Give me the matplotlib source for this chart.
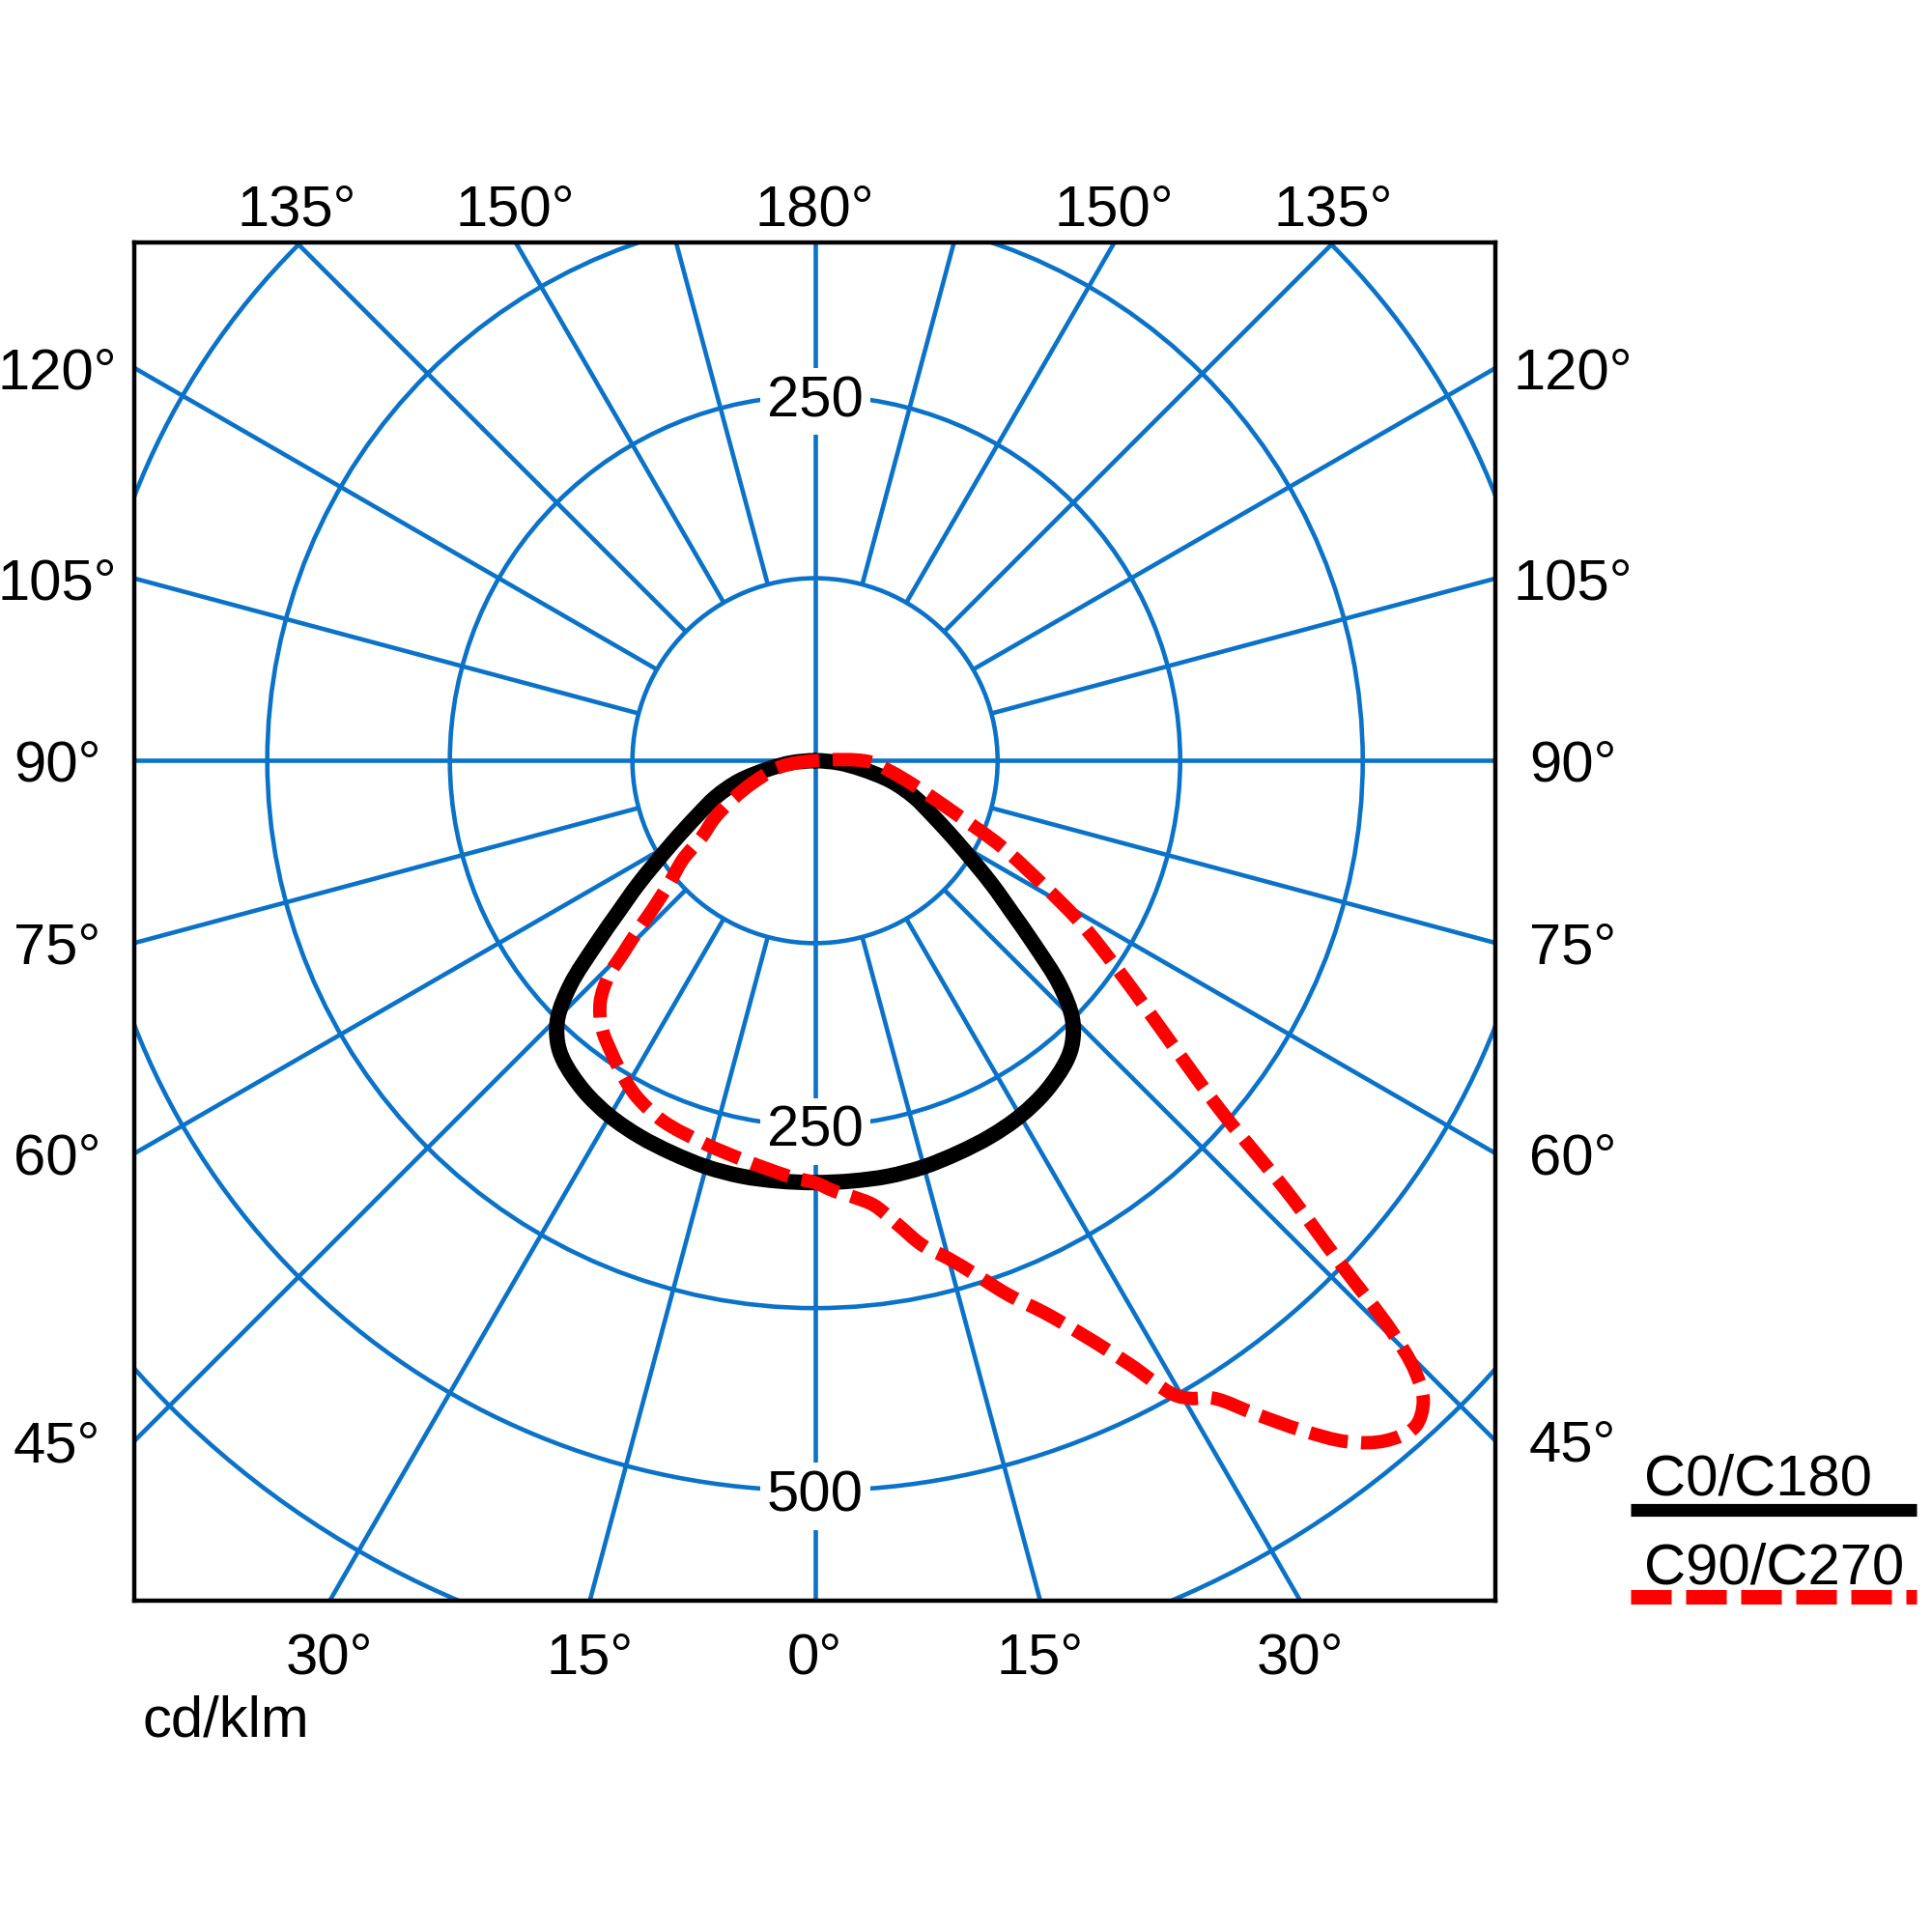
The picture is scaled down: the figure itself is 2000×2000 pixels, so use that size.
import numpy as np
import matplotlib
matplotlib.use("Agg")
import matplotlib.pyplot as plt
from matplotlib.patches import Circle, PathPatch
from matplotlib.path import Path
from matplotlib.lines import Line2D

plt.rcParams['font.family'] = ['Liberation Sans', 'DejaVu Sans']

# ---------------- data (cd/klm) ----------------
# C0/C180 (symmetric, both halves identical)
c0_gamma = [0, 5, 10, 15, 20, 25, 30, 35, 40, 42.5, 45, 47.5, 50, 52.5, 55, 60, 65, 70, 75, 80, 85, 90]
c0_int = [289, 289, 289, 288, 286, 284, 281, 276, 268, 261, 249, 227, 196, 169, 148, 113, 89, 72, 54, 32, 16, 0]

# C90 half (right side, asymmetric lobe)
c90_gamma = [0, 2.5, 5, 7.5, 10, 12.5, 15, 17.5, 20, 22.5, 25, 27.5, 29.5, 30.5, 32, 34, 36, 38, 40,
             42, 43.5, 44.5, 45.3, 46.2, 47.6, 49.2, 50.8, 52.9, 55.6, 58.5, 61.4, 65.2, 69.2, 76, 82, 89, 90]
c90_int = [289, 295, 300, 307, 322, 340, 353, 370, 390, 409, 434, 466, 499, 507, 515, 540, 567, 592, 608,
           614, 605, 586, 555, 500, 437, 367, 327, 288, 249, 214, 178, 141, 104, 70, 52, 37, 0]

# C270 half (left side)
c270_gamma = [0, 3, 10, 16, 22.8, 27.7, 30.9, 34.8, 38.6, 41.7, 43.8, 44.9, 46.2, 47.6, 50, 53.2, 55.9,
              60.3, 65, 70.5, 80, 90]
c270_int = [289, 286, 278, 273, 268, 261, 254, 244, 234, 221, 204, 186, 168, 150, 130, 113, 94,
            79, 62, 45, 24, 0]

ring_values = [125, 250, 375, 500, 625]
ring_label_text = ["250", "250", "500"]
ring_label_value = [250, 250, 500]
ring_label_gamma = [180, 0, 0]
left_ticks = [45, 60, 75, 90, 105, 120]
bottom_ticks = [0, 15, 30]
top_ticks = [135, 150, 180]
series_labels = ["C0/C180", "C90/C270"]
unit_label = "cd/klm"

# ---------------- styling ----------------
GRID = '#0a72c8'
RED = '#ff0000'
FS = 43
PX = 0.72  # points per pixel at dpi 100
GLW = 3.3

fig = plt.figure(figsize=(20, 20), dpi=100)
ax = fig.add_axes([0.06925, 0.1715, 0.70475, 0.703])
XMIN, XMAX, YMIN, YMAX = -466.4, 465.8, -575.4, 355.0
ax.set_xlim(XMIN, XMAX)
ax.set_ylim(YMIN, YMAX)
ax.set_xticks([])
ax.set_yticks([])
for sp in ax.spines.values():
    sp.set_linewidth(3.2)
    sp.set_color('black')
    sp.set_zorder(10)


def to_xy(gamma, r, side):
    g = np.radians(np.asarray(gamma, dtype=float))
    r = np.asarray(r, dtype=float)
    return side * r * np.sin(g), -r * np.cos(g)


def smooth_closed_path(x, y):
    """Centripetal Catmull-Rom spline through the points, as cubic Bezier path (closed)."""
    P = np.column_stack([x, y])
    n = len(P)
    verts = [P[0]]
    codes = [Path.MOVETO]
    for i in range(n):
        p0, p1, p2, p3 = P[(i - 1) % n], P[i], P[(i + 1) % n], P[(i + 2) % n]
        d1 = max(np.linalg.norm(p1 - p0), 1e-6) ** 0.5
        d2 = max(np.linalg.norm(p2 - p1), 1e-6) ** 0.5
        d3 = max(np.linalg.norm(p3 - p2), 1e-6) ** 0.5
        b1 = (d1 ** 2 * p2 - d2 ** 2 * p0 + (2 * d1 ** 2 + 3 * d1 * d2 + d2 ** 2) * p1) / (3 * d1 * (d1 + d2))
        b2 = (d3 ** 2 * p1 - d2 ** 2 * p3 + (2 * d3 ** 2 + 3 * d3 * d2 + d2 ** 2) * p2) / (3 * d3 * (d3 + d2))
        verts += [b1, b2, p2]
        codes += [Path.CURVE4] * 3
    return Path(np.array(verts), codes)


# grid circles
for rv in ring_values:
    ax.add_patch(Circle((0, 0), rv, fill=False, ec=GRID, lw=GLW, zorder=1))

# radial lines
for g in range(15, 180, 15):
    if g == 90:
        continue
    for side in (-1, 1):
        x, y = to_xy([g, g], [125, 1500], side)
        ax.plot(x, y, color=GRID, lw=GLW, zorder=1, solid_capstyle='butt')
ax.plot([0, 0], [YMIN - 10, YMAX + 10], color=GRID, lw=GLW, zorder=1)
ax.plot([XMIN - 10, XMAX + 10], [0, 0], color=GRID, lw=GLW, zorder=1)

# ring value labels
for txt, val, g in zip(ring_label_text, ring_label_value, ring_label_gamma):
    x, y = to_xy(g, val, 1)
    ax.annotate(txt, xy=(float(x), float(y)), xytext=(0, -15.5), textcoords='offset points',
                ha='center', va='baseline', fontsize=FS, zorder=3,
                bbox=dict(boxstyle='square,pad=0.12', fc='white', ec='none'))

# angle labels
for g in left_ticks:
    gr = np.radians(g)
    y = XMIN * np.cos(gr) / np.sin(gr)
    ax.annotate(f"{g}\u00b0", xy=(XMIN, y), xytext=(-79.5 * PX, -15.5), textcoords='offset points',
                ha='center', va='baseline', fontsize=FS, annotation_clip=False)
    y2 = -XMAX * np.cos(gr) / np.sin(gr)
    ax.annotate(f"{g}\u00b0", xy=(XMAX, y2), xytext=(80 * PX, -15.5), textcoords='offset points',
                ha='center', va='baseline', fontsize=FS, annotation_clip=False)

for g in bottom_ticks:
    gr = np.radians(g)
    sides = (1,) if g == 0 else (-1, 1)
    for side in sides:
        x = side * (-YMIN) * np.tan(gr)
        ax.annotate(f"{g}\u00b0", xy=(x, YMIN), xytext=(0, -76 * PX), textcoords='offset points',
                    ha='center', va='baseline', fontsize=FS, annotation_clip=False)

for g in top_ticks:
    gr = np.radians(g)
    sides = (1,) if g == 180 else (-1, 1)
    for side in sides:
        t = YMAX / (-np.cos(gr))
        x = side * t * np.sin(gr)
        ax.annotate(f"{g}\u00b0", xy=(x, YMAX), xytext=(0, 18 * PX), textcoords='offset points',
                    ha='center', va='baseline', fontsize=FS, annotation_clip=False)

# curves (left half from 90 down to 0, right half from 0 up to 90; shared points dropped)
bx_l, by_l = to_xy(c0_gamma[::-1], c0_int[::-1], -1)
bx_r, by_r = to_xy(c0_gamma, c0_int, 1)
bx = np.concatenate([bx_l, bx_r[1:-1]])
by = np.concatenate([by_l, by_r[1:-1]])
ax.add_patch(PathPatch(smooth_closed_path(bx, by), fill=False, ec='black', lw=11.5,
                       joinstyle='round', capstyle='round', zorder=5))

rx_l, ry_l = to_xy(c270_gamma[::-1], c270_int[::-1], -1)
rx_r, ry_r = to_xy(c90_gamma, c90_int, 1)
rx = np.concatenate([rx_l, rx_r[1:-1]])
ry = np.concatenate([ry_l, ry_r[1:-1]])
red_patch = PathPatch(smooth_closed_path(rx, ry), fill=False, ec=RED, lw=10,
                      linestyle=(0, (2.9, 1.0)), joinstyle='round', capstyle='butt', zorder=6)
ax.add_patch(red_patch)

# unit label
fig.text(0.074, 0.1015, unit_label, fontsize=FS, ha='left', va='baseline')

# legend
fig.text(0.851, 0.226, series_labels[0], fontsize=FS, ha='left', va='baseline')
fig.add_artist(Line2D([0.844, 0.992], [0.2187, 0.2187], transform=fig.transFigure,
                      color='black', lw=9.5, solid_capstyle='butt'))
fig.text(0.851, 0.180, series_labels[1], fontsize=FS, ha='left', va='baseline')
fig.add_artist(Line2D([0.844, 0.992], [0.1735, 0.1735], transform=fig.transFigure,
                      color=RED, lw=10.8, linestyle=(0, (2.8, 1.0)), dash_capstyle='butt'))

fig.savefig("out.png", dpi=100, facecolor='white')
